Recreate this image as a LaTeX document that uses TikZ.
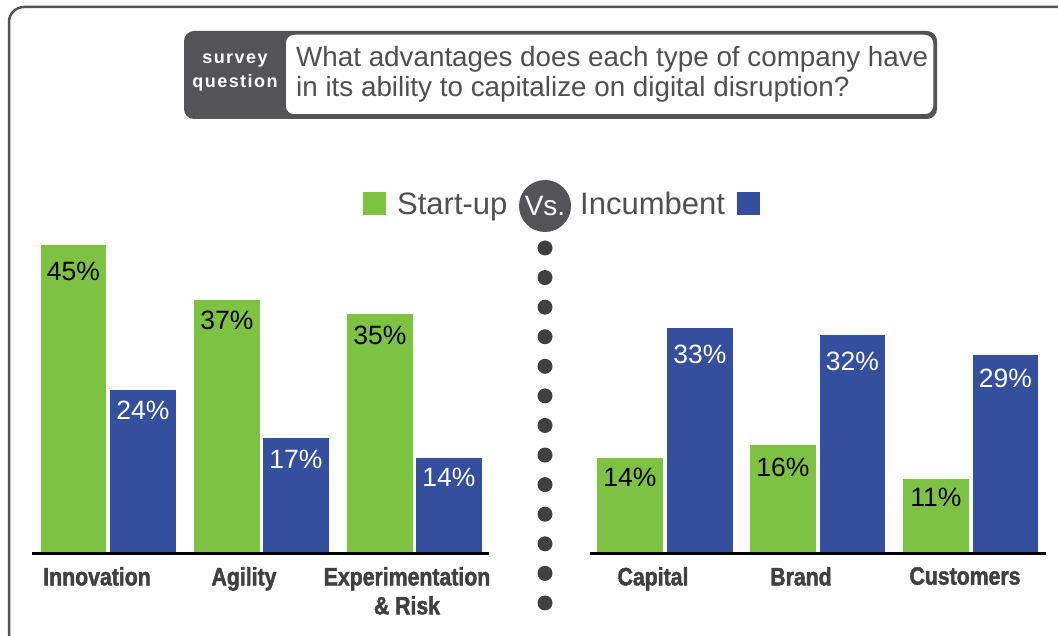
\documentclass[tikz,border=0pt]{standalone}
\usepackage{fontspec}
\setmainfont{Liberation Sans}
\newfontfamily\condfont[FakeStretch=0.85, FakeBold=1.8]{Liberation Sans}
\definecolor{StartGreen}{RGB}{125,194,66}
\definecolor{IncBlue}{RGB}{53,79,159}
\definecolor{BoxGray}{RGB}{84,84,86}
\definecolor{TextGray}{RGB}{80,80,82}
\definecolor{LabelGray}{RGB}{64,64,66}
\newcommand{\lw}{2.5pt}
\newcommand{\pctsize}{\fontsize{26.5}{30}\selectfont}

\begin{document}
\begin{tikzpicture}[x=1pt, y=-1pt,
    pct/.style={font=\pctsize, inner sep=0pt},
    pctdark/.style={pct, text=black},
    pctlight/.style={pct, text=white},
    catlabel/.style={font=\condfont\bfseries\fontsize{25}{29}\selectfont, text=LabelGray, align=center, anchor=north, inner sep=0pt},
    surveytext/.style={text=white, inner sep=0pt, font=\bfseries\fontsize{18}{20}\selectfont\addfontfeatures{LetterSpace=8}},
    keysq/.style={minimum size=23pt, inner sep=0pt},
    keytext/.style={font=\fontsize{31}{34}\selectfont, text=TextGray, inner sep=0pt, anchor=base west},
    axisline/.style={line width=3pt, black}]
  \useasboundingbox (0,0) rectangle (1058,636);

  % frame and question box
  \draw[BoxGray, line width=\lw, rounded corners=15pt] (9,660) -- (9,7) -- (1080,7);
  \fill[BoxGray, rounded corners=10pt] (184,31) rectangle (937,119);
  \draw[fill=white, draw=BoxGray, line width=1.5pt, rounded corners=9pt] (285,34) rectangle (934,115);
  \node[surveytext] (survey) at (235,61) {survey};
  \node[surveytext] (question) at (235,83) {question};
  \node[anchor=west, align=left, text=TextGray, inner sep=0pt, font=\fontsize{27.8}{30}\selectfont] (qtext) at (296,74)
    {What advantages does each type of company have\\in its ability to capitalize on digital disruption?};

  % legend
  \node[keysq, fill=StartGreen] (startsq) at (374.5,203.5) {};
  \node[keytext] (startlbl) at (397,215) {Start-up};
  \node[circle, fill=BoxGray, minimum size=52pt, inner sep=0pt, text=white, font=\fontsize{28}{30}\selectfont] (vs) at (545,206) {Vs.};
  \node[keytext] (inclbl) at (580,215) {Incumbent};
  \node[keysq, fill=IncBlue] (incsq) at (748,203.5) {};

  % divider
  \foreach \k in {0,...,12}
    \fill[LabelGray] (545,248+29.58*\k) circle (7.5pt);

  % axes
  \draw[axisline] (32,553) -- (489,553);
  \draw[axisline] (590,553) -- (1046,553);

  % start-up advantages
  \fill[StartGreen] (41,552) rectangle (106,245);
  \fill[IncBlue]    (110,552) rectangle (176,390);
  \fill[StartGreen] (194,552) rectangle (260,300);
  \fill[IncBlue]    (263,552) rectangle (329,438);
  \fill[StartGreen] (347,552) rectangle (413,314);
  \fill[IncBlue]    (416,552) rectangle (482,458);
  \node[pctdark]  (innoS) at (73.5,271) {45\%};
  \node[pctlight] (innoI) at (143,410)  {24\%};
  \node[pctdark]  (agilS) at (227,320)  {37\%};
  \node[pctlight] (agilI) at (296,459)  {17\%};
  \node[pctdark]  (expS)  at (380,335)  {35\%};
  \node[pctlight] (expI)  at (449,477)  {14\%};

  % incumbent advantages
  \fill[StartGreen] (597,552) rectangle (663,458);
  \fill[IncBlue]    (667,552) rectangle (733,328);
  \fill[StartGreen] (750,552) rectangle (816,445);
  \fill[IncBlue]    (820,552) rectangle (885,335);
  \fill[StartGreen] (903,552) rectangle (969,479);
  \fill[IncBlue]    (973,552) rectangle (1038,355);
  \node[pctdark]  (capS)  at (630,477)    {14\%};
  \node[pctlight] (capI)  at (700,354)    {33\%};
  \node[pctdark]  (brandS) at (783,467)   {16\%};
  \node[pctlight] (brandI) at (852.5,361) {32\%};
  \node[pctdark]  (custS) at (936,497)    {11\%};
  \node[pctlight] (custI) at (1005.5,378) {29\%};

  % categories
  \node[catlabel] (inno)  at (97,567)  {Innovation};
  \node[catlabel] (agil)  at (244,567) {Agility};
  \node[catlabel] (exp)   at (407,567) {Experimentation\\\& Risk};
  \node[catlabel] (cap)   at (653,567) {Capital};
  \node[catlabel] (brand) at (801,567) {Brand};
  \node[catlabel] (cust)  at (965,567) {Customers};
\end{tikzpicture}
\end{document}
